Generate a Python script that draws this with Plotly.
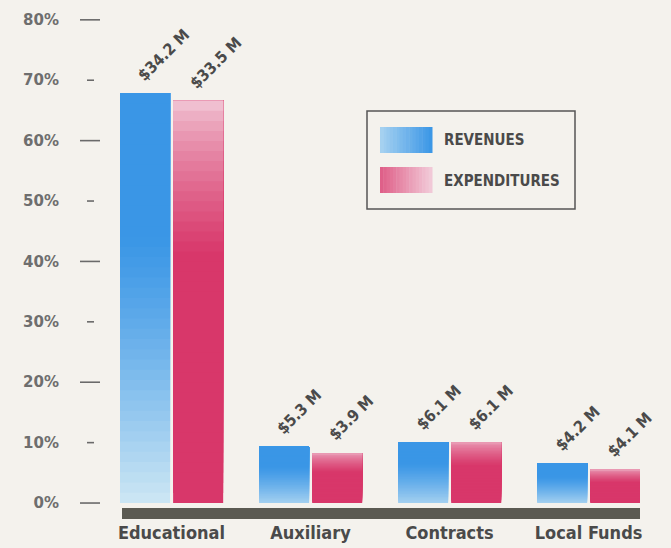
import plotly.graph_objects as go

# ---------------- data ----------------
categories = ["Educational<br>& General", "Auxiliary<br>Enterprises", "Contracts<br>& Grants", "Local Funds"]
revenues_pct = [67.9, 9.3, 10.1, 6.6]
expenditures_pct = [66.6, 8.3, 10.1, 5.6]
revenues_labels = ["$34.2 M", "$5.3 M", "$6.1 M", "$4.2 M"]
expenditures_labels = ["$33.5 M", "$3.9 M", "$6.1 M", "$4.1 M"]
y_ticks = [0, 10, 20, 30, 40, 50, 60, 70, 80]
y_ticktext = ["0%", "10%", "20%", "30%", "40%", "50%", "60%", "70%", "80%"]
series_names = ["REVENUES", "EXPENDITURES"]

# ---------------- layout geometry ----------------
W, H = 671, 548
ML, MR, MT, MB = 120, 31, 15, 28
PW, PH = W - ML - MR, H - MT - MB
BG = "#f4f2ed"
NARROW = "DejaVu Sans Condensed, Liberation Sans Narrow, Roboto, sans-serif"
WIDE = "DejaVu Sans, Open Sans, sans-serif"


def px_x(p):
    return (p - ML) / PW


def px_y(p):
    return (H - MB - p) / PH


def lerp(c1, c2, m):
    return "rgb(%d,%d,%d)" % tuple(round(a + (b - a) * m) for a, b in zip(c1, c2))


def clamp(v):
    return max(0.0, min(1.0, v))


BLUE_TOP, BLUE_BOT = (58, 150, 230), (205, 231, 244)
PINK_TOP, PINK_BOT = (242, 205, 218), (216, 55, 106)


def blue_col(t, strength):
    m = clamp((t - 0.35) / 0.65) ** 1.2 * strength
    return lerp(BLUE_TOP, BLUE_BOT, m)


def pink_col(t, strength):
    m = 1 - clamp(t / 0.38) ** 0.7
    m = m * strength
    return lerp(PINK_BOT, PINK_TOP, m)


N = 40
BAR_W = 0.36
fig = go.Figure()
for vals, colfn, offset in ((revenues_pct, blue_col, -0.37), (expenditures_pct, pink_col, 0.012)):
    for i in range(N):
        t = 1 - (i + 0.5) / N  # fraction from the top
        cols = [colfn(t, 1.0 if v > 30 else 0.72) for v in vals]
        # each slice runs from its own base up to the bar top; later slices cover earlier ones
        fig.add_trace(go.Bar(
            x=categories,
            y=[v * (N - i) / N for v in vals],
            base=[v * i / N for v in vals],
            marker=dict(color=cols, line=dict(width=0)),
            width=BAR_W,
            offset=offset,
            showlegend=False,
            hoverinfo="skip",
        ))

# value labels
for vals, labels, xs in ((revenues_pct, revenues_labels, -40), (expenditures_pct, expenditures_labels, 12)):
    for c, v, lab in zip(categories, vals, labels):
        fig.add_annotation(
            x=c, y=v, text="<b>%s</b>" % lab, showarrow=False,
            textangle=-45, xanchor="left", yanchor="bottom",
            xshift=xs, yshift=6,
            font=dict(family=NARROW, size=16, color="#4a4a4a"),
        )

shapes = []
# dark base band
shapes.append(dict(type="rect", xref="paper", yref="y", x0=px_x(122), x1=px_x(640),
                   y0=-0.83, y1=-2.65, fillcolor="#5b5a52", line=dict(width=0), layer="above"))
# tick dashes
for k, tv in enumerate(y_ticks):
    if k % 2 == 0:
        a, b = 80, 100
    else:
        a, b = 87, 94
    shapes.append(dict(type="line", xref="paper", yref="y", x0=px_x(a), x1=px_x(b), y0=tv, y1=tv,
                       line=dict(color="#6a6a6a", width=1.6)))

# legend box
shapes.append(dict(type="rect", xref="paper", yref="paper", x0=px_x(367), x1=px_x(575),
                   y0=px_y(209), y1=px_y(111), line=dict(color="#555555", width=1.5), fillcolor=BG))
M = 16
for (y0, y1), (c_a, c_b) in (((127, 153), (BLUE_BOT, BLUE_TOP)), ((167, 193), (PINK_BOT, PINK_TOP))):
    for j in range(M):
        xa = 380 + 52 * j / M
        xb = 380 + 52 * (j + 1) / M + 0.5
        m = (j + 0.5) / M
        shapes.append(dict(type="rect", xref="paper", yref="paper", x0=px_x(xa), x1=px_x(xb),
                           y0=px_y(y1), y1=px_y(y0), line=dict(width=0),
                           fillcolor=lerp(c_a, c_b, 0.25 + 0.75 * m)))
for name, yc in zip(series_names, (140, 181)):
    fig.add_annotation(x=px_x(442), y=px_y(yc), xref="paper", yref="paper", text="<b>%s</b>" % name,
                       showarrow=False, xanchor="left", yanchor="middle",
                       font=dict(family=NARROW, size=15, color="#4a4a4a"))

fig.update_layout(
    width=W, height=H,
    margin=dict(l=ML, r=MR, t=MT, b=MB, pad=0, autoexpand=False),
    paper_bgcolor=BG, plot_bgcolor=BG,
    barmode="overlay",
    showlegend=False,
    shapes=shapes,
    xaxis=dict(range=[-0.37, 3.37], showgrid=False, zeroline=False, showline=False, ticks="",
               automargin=False,
               tickfont=dict(family=NARROW, size=18, color="#4a4a4a"), ticklabelstandoff=0,
               ticktext=["<b>%s</b>" % c for c in categories], tickvals=categories, fixedrange=True),
    yaxis=dict(range=[-2.81, 80.8], showgrid=False, zeroline=False, showline=False, ticks="",
               automargin=False,
               tickvals=y_ticks, ticktext=["<b>%s</b>" % t for t in y_ticktext],
               tickfont=dict(family=WIDE, size=15, color="#6e6e6e"), ticklabelstandoff=60,
               fixedrange=True),
)

fig.write_html("out.html")
